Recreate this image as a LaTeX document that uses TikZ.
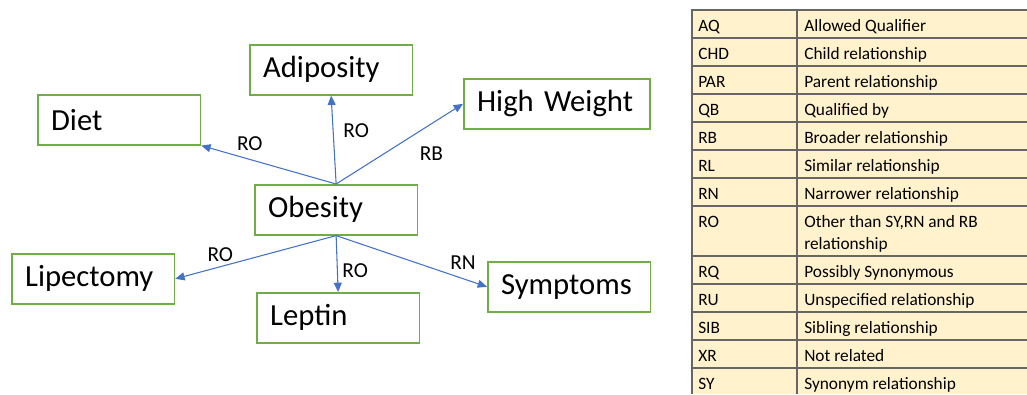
\documentclass[tikz,border=0pt]{standalone}
\usepackage{fontspec}
\setmainfont{Carlito}
\usetikzlibrary{arrows.meta}
\definecolor{boxgreen}{HTML}{70AD47}
\definecolor{linkblue}{HTML}{4472C4}
\definecolor{tablefill}{HTML}{FFF2CC}
\definecolor{tableline}{HTML}{666666}
\tikzset{
  concept/.style={draw=boxgreen, line width=1.2pt, anchor=north west,
    minimum height=37.5pt, inner xsep=10pt, text width=102pt, align=left,
    font=\fontsize{23}{27}\selectfont},
  link/.style={draw=linkblue, line width=0.8pt, -{Triangle[length=7pt,width=6pt]}},
  linklabel/.style={font=\fontsize{16}{19}\selectfont},
  cell/.style={anchor=base west, inner sep=0pt, align=left,
    font=\fontsize{13}{16.5}\selectfont}
}
\begin{document}
\begin{tikzpicture}[x=0.75pt,y=-0.75pt]
    \useasboundingbox (0,0) rectangle (1027,394);
    % concepts
    \node[concept] (obesity) at (254,184) {Obesity};
    \node[concept] (adiposity) at (249,44) {Adiposity};
    \node[concept] (diet) at (37,94) {Diet};
    \node[concept, text width=119.5pt] (highweight) at (463,78) {High Weight};
    \node[concept] (lipectomy) at (11,253) {Lipectomy};
    \node[concept] (leptin) at (256,292) {Leptin};
    \node[concept] (symptoms) at (487,261) {Symptoms};
    % relations
    \draw[link] (obesity.north) -- node[linklabel, pos=0.64, above=3pt]{RO} (diet.south east);
    \draw[link] (obesity.north) -- node[linklabel, pos=0.6, right=4pt]{RO} (adiposity.south);
    \draw[link] (obesity.north) -- node[linklabel, pos=0.62, below right, yshift=-6pt]{RB} (highweight.west);
    \draw[link] (obesity.south) -- node[linklabel, pos=0.72, above]{RO} (lipectomy.east);
    \draw[link] (obesity.south) -- node[linklabel, pos=0.63, right]{RO} (leptin.north);
    \draw[link] (obesity.south) -- node[linklabel, pos=0.75, above right, xshift=-3pt]{RN} (symptoms.west);
    % abbreviation table
    \fill[tablefill] (692,10) rectangle (1027,394);
    \draw[tableline, line width=1.1pt] (692,394) -- (692,10) -- (1027,10);
    \draw[tableline, line width=1.1pt] (797,10) -- (797,394);
    \foreach \y in {38,66,94,122,150,178,206,256,284,312,340,368}
      \draw[tableline, line width=1.1pt] (692,\y) -- (1027,\y);
    \foreach \code/\desc/\y in {AQ/Allowed Qualifier/31, CHD/Child relationship/59,
        PAR/Parent relationship/87, QB/Qualified by/115, RB/Broader relationship/143,
        RL/Similar relationship/171, RN/Narrower relationship/199,
        RQ/Possibly Synonymous/277, RU/Unspecified relationship/305,
        SIB/Sibling relationship/333, XR/Not related/361, SY/Synonym relationship/389}
    {
      \node[cell] (code-\code) at (698,\y) {\code};
      \node[cell] (desc-\code) at (804,\y) {\desc};
    }
    \node[cell] (code-RO) at (698,227) {RO};
    \node[cell] (desc-RO) at (804,249) {Other than SY,RN and RB\\relationship};
\end{tikzpicture}
\end{document}
